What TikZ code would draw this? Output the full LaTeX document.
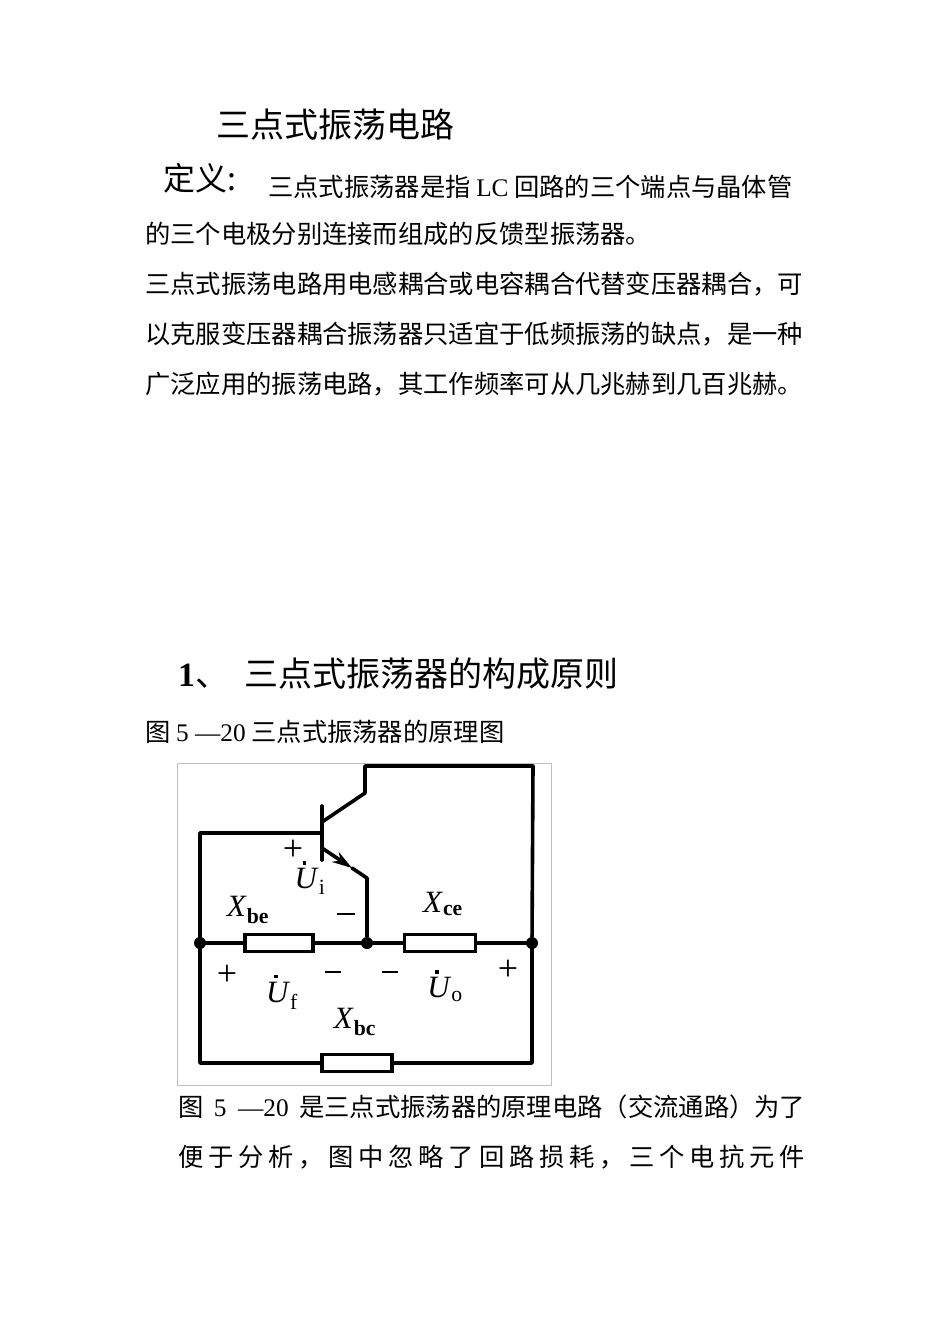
\documentclass[tikz,border=0pt]{standalone}
\usepackage{fontspec}
\setmainfont{Liberation Serif}
\newfontfamily\cjk{Noto Sans CJK SC}
\usetikzlibrary{arrows.meta}
\newcommand{\dU}{\makebox[0pt][l]{\hspace{8pt}\raisebox{24pt}{\rule{3.5pt}{3.5pt}}}\textit{U}}
\begin{document}
\begin{tikzpicture}[x=1pt,y=-1pt,
  txt/.style={anchor=base west,inner sep=0pt,font=\fontsize{25.3}{28}\selectfont\cjk},
  wire/.style={line width=3.6pt,line cap=round,line join=round},
  res/.style={draw,line width=3.2pt,fill=white,minimum height=17pt,inner sep=0pt},
  lbl/.style={inner sep=0pt,font=\fontsize{31}{31}\selectfont},
  pm/.style={inner sep=0pt,font=\fontsize{36}{36}\selectfont},
  dotn/.style={circle,fill,inner sep=0pt,minimum size=12pt}]
\useasboundingbox (0,0) rectangle (950,1344);
\node[txt,font=\fontsize{34}{36}\selectfont\cjk] (title) at (216,137) {三点式振荡电路};
\node[txt,font=\fontsize{32}{34}\selectfont\cjk] (def) at (163,190) {定义:};
\node[txt] (l1) at (268,196) {三点式振荡器是指 {\fontspec{Liberation Serif}LC} 回路的三个端点与晶体管};
\node[txt] (l2) at (145,243) {的三个电极分别连接而组成的反馈型振荡器。};
\node[txt] (l3) at (145,293) {三点式振荡电路用电感耦合或电容耦合代替变压器耦合，可};
\node[txt] (l4) at (145,343) {以克服变压器耦合振荡器只适宜于低频振荡的缺点，是一种};
\node[txt] (l5) at (145,393) {广泛应用的振荡电路，其工作频率可从几兆赫到几百兆赫。};
\node[txt,font=\fontsize{34}{36}\selectfont\cjk] (h1) at (178,686) {{\bfseries\fontspec{Liberation Serif}1}、\hspace{8pt} 三点式振荡器的构成原则};
\node[txt] (cap) at (145,741) {图 {\fontspec{Liberation Serif}5 —20} 三点式振荡器的原理图};
\node[txt] (p1) at (178,1116) {\makebox[627pt][s]{图 {\fontspec{Liberation Serif}5 —20} 是三点式振荡器的原理电路（交流通路）为了}};
\node[txt] (p2) at (178,1166) {\makebox[627pt][s]{便 于 分 析 ， 图 中 忽 略 了 回 路 损 耗 ， 三 个 电 抗 元 件}};
% frame
\draw[black!25,line width=0.8pt] (177,763) rectangle (551,1085);
% nodes
\node[dotn] (nl) at (200,943) {};
\node[dotn] (nm) at (367,943) {};
\node[dotn] (nr) at (532,943) {};
\coordinate (bjt) at (322,833);
\coordinate (bb1) at (322,806);
\coordinate (bb2) at (322,860);
\coordinate (cj) at (322,822);
\coordinate (c1) at (365,793);
\coordinate (c2) at (365,766);
\coordinate (tr) at (533,766);
\coordinate (ej) at (322,848);
\coordinate (em) at (352,868);
\coordinate (e1) at (367,878);
\coordinate (bl) at (200,1063);
\coordinate (br) at (532,1063);
\draw[wire] (nl) |- (bjt);
\draw[wire] (bb1) -- (bb2);
\draw[wire] (cj) -- (c1) -- (c2) -- (tr) -- (nr);
\draw[wire,-{Stealth[length=20pt,width=12pt]}] (ej) -- (em);
\draw[wire] (em) -- (e1) -- (nm);
\draw[wire] (nl) -- (nm) -- (nr);
\draw[wire] (nl) -- (bl) -- (br) -- (nr);
\node[res,minimum width=68pt] (xbe) at (279,943) {};
\node[res,minimum width=71pt] (xce) at (440,943) {};
\node[res,minimum width=70pt] (xbc) at (357,1063) {};
% labels
\node[lbl] (txbe) at (248,910) {\textit{X}\textsubscript{\bfseries be}};
\node[lbl] (tui) at (310,878) {\dU\textsubscript{i}};
\node[pm] (pui) at (293,850) {+};
\node[pm] (mui) at (346,914) {\rule{18pt}{2pt}};
\node[lbl] (txce) at (443,904) {\textit{X}\textsubscript{\bfseries ce}};
\node[pm] (pf) at (227,975) {+};
\node[lbl] (tuf) at (282,992) {\dU\textsubscript{f}};
\node[pm] (mf) at (333,972) {\rule{16pt}{2pt}};
\node[pm] (mo) at (390,972) {\rule{16pt}{2pt}};
\node[lbl] (tuo) at (445,986) {\dU\textsubscript{o}};
\node[pm] (po) at (508,970) {+};
\node[lbl] (txbc) at (355,1022) {\textit{X}\textsubscript{\bfseries bc}};
\end{tikzpicture}
\end{document}
